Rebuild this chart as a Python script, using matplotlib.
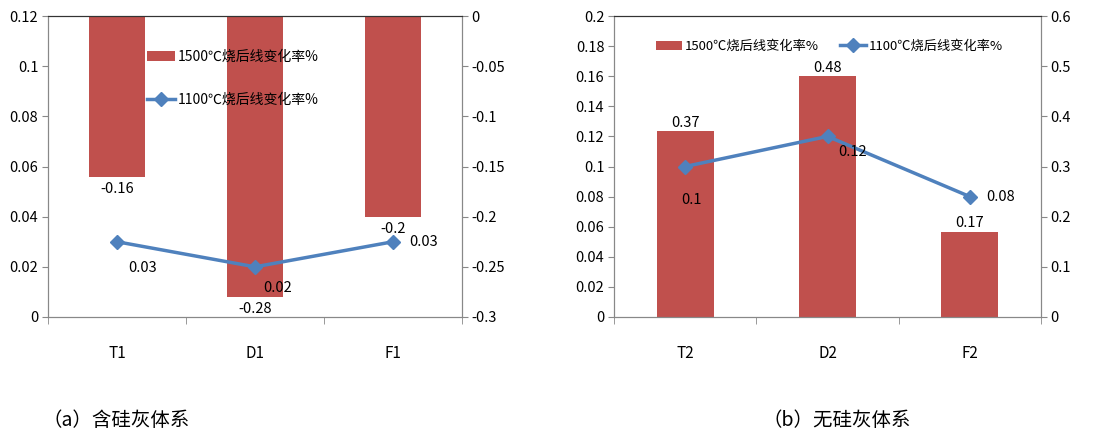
import matplotlib
matplotlib.use("Agg")
import matplotlib.pyplot as plt
from matplotlib.ticker import FuncFormatter, FixedLocator

plt.rcParams['font.family'] = ['Noto Sans CJK SC', 'DejaVu Sans']

# données
cats_a = ['T1', 'D1', 'F1']
bar_a = [-0.16, -0.28, -0.2]      # 1500℃, axe de droite
line_a = [0.03, 0.02, 0.03]       # 1100℃, axe de gauche
cats_b = ['T2', 'D2', 'F2']
bar_b = [0.37, 0.48, 0.17]
line_b = [0.1, 0.12, 0.08]
bar_name = '1500℃烧后线变化率%'
line_name = '1100℃烧后线变化率%'
captions = ['（a）含硅灰体系', '（b）无硅灰体系']

BAR_C = '#C0504D'
LINE_C = '#4F81BD'
W, H = 1112, 437
fmt = FuncFormatter(lambda v, p: '%g' % round(v, 3))


def style_axes(ax, ax2, n):
    for a in (ax, ax2):
        for s in a.spines.values():
            s.set_color('#888888')
        a.spines['top'].set_color('#333333')
        a.tick_params(axis='y', direction='out', length=4, color='#888888', labelsize=10.5, pad=3)
        a.yaxis.set_major_formatter(fmt)
    ax.set_xlim(-0.5, n - 0.5)
    ax.set_xticks(range(n))
    ax.tick_params(axis='x', length=0, labelsize=11, pad=20)
    ax.xaxis.set_minor_locator(FixedLocator([i - 0.5 for i in range(n + 1)]))
    ax.tick_params(axis='x', which='minor', length=5, color='#888888', direction='out')
    ax.set_zorder(ax2.get_zorder() + 1)
    ax.patch.set_visible(False)


fig = plt.figure(figsize=(W / 100, H / 100), dpi=100)

# (a)
ax = fig.add_axes([48 / W, 1 - 317 / H, 414 / W, 301 / H])
ax2 = ax.twinx()
x = list(range(len(cats_a)))
bars = ax2.bar(x, bar_a, width=0.41, color=BAR_C, label=bar_name)
ln, = ax.plot(x, line_a, color=LINE_C, lw=2.5, marker='D', ms=7, label=line_name)
ax.set_ylim(0, 0.12)
ax.set_yticks([0, 0.02, 0.04, 0.06, 0.08, 0.1, 0.12])
ax2.set_ylim(-0.3, 0)
ax2.set_yticks([-0.3, -0.25, -0.2, -0.15, -0.1, -0.05, 0])
ax.set_xticklabels(cats_a)
style_axes(ax, ax2, len(cats_a))
for xi, v in zip(x, bar_a):
    ax2.annotate('%g' % v, (xi, v), xytext=(0, -4), textcoords='offset points',
                 ha='center', va='top', fontsize=10.5)
offs = [(8, -14), (6, -10), (12, 0)]
vas = ['top', 'top', 'center']
for xi, v, o, va in zip(x, line_a, offs, vas):
    ax.annotate('%g' % v, (xi, v), xytext=o, textcoords='offset points',
                ha='left', va=va, fontsize=10.5)
ax.legend([bars, ln], [bar_name, line_name], loc='upper left', bbox_to_anchor=(0.21, 0.93),
          frameon=False, fontsize=10, labelspacing=2.1, handlelength=2.0, handletextpad=0.2)
fig.text(43 / W, 1 - 420 / H, captions[0], fontsize=14, va='center', ha='left')

# (b)
bx = fig.add_axes([614 / W, 1 - 317 / H, 427 / W, 301 / H])
bx2 = bx.twinx()
x = list(range(len(cats_b)))
bars = bx2.bar(x, bar_b, width=0.40, color=BAR_C, label=bar_name)
ln, = bx.plot(x, line_b, color=LINE_C, lw=2.5, marker='D', ms=7, label=line_name)
bx.set_ylim(0, 0.2)
bx.set_yticks([0, 0.02, 0.04, 0.06, 0.08, 0.1, 0.12, 0.14, 0.16, 0.18, 0.2])
bx2.set_ylim(0, 0.6)
bx2.set_yticks([0, 0.1, 0.2, 0.3, 0.4, 0.5, 0.6])
bx.set_xticklabels(cats_b)
style_axes(bx, bx2, len(cats_b))
for xi, v in zip(x, bar_b):
    bx2.annotate('%g' % v, (xi, v), xytext=(0, 1), textcoords='offset points',
                 ha='center', va='bottom', fontsize=10.5)
offs = [(-3, -24), (8, -6), (12, 0)]
vas = ['center', 'top', 'center']
for xi, v, o, va in zip(x, line_b, offs, vas):
    bx.annotate('%g' % v, (xi, v), xytext=o, textcoords='offset points',
                ha='left', va=va, fontsize=10.5)
bx.legend([bars, ln], [bar_name, line_name], loc='upper left', bbox_to_anchor=(0.07, 0.96),
          ncol=2, frameon=False, fontsize=9.5, handlelength=2.0, handletextpad=0.2,
          columnspacing=1.6)
fig.text(762 / W, 1 - 420 / H, captions[1], fontsize=14, va='center', ha='left')

fig.savefig('out.png', dpi=100)
